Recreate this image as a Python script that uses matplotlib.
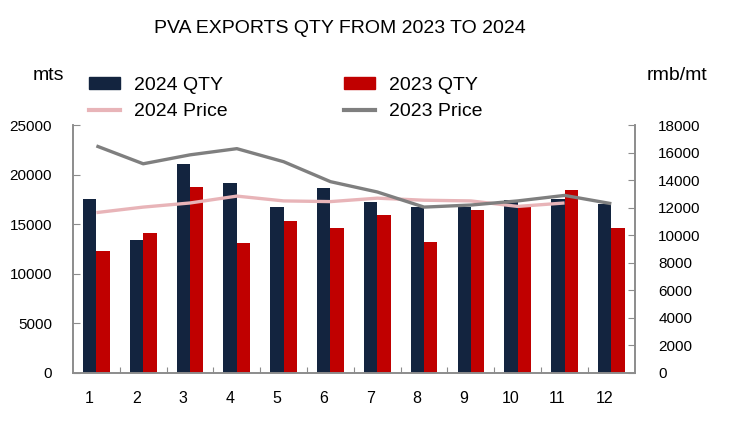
import numpy as np
import matplotlib.pyplot as plt
from matplotlib.lines import Line2D
from matplotlib.patches import Patch
import matplotlib.transforms as mtransforms

# data
months = [1, 2, 3, 4, 5, 6, 7, 8, 9, 10, 11, 12]
qty_2024 = [17600, 13400, 21100, 19200, 16700, 18700, 17300, 16700, 16700, 17500, 17600, 17000]
qty_2023 = [12300, 14100, 18800, 13100, 15300, 14600, 15900, 13200, 16400, 16700, 18500, 14600]
price_2024 = [11650, 12050, 12350, 12850, 12500, 12450, 12700, 12550, 12500, 12100, 12350]
price_2023 = [16500, 15200, 15850, 16300, 15350, 13900, 13150, 12050, 12200, 12500, 12900, 12300]

navy = '#13243f'
red = '#c00000'
pink = '#e8b4b8'
gray = '#7f7f7f'
axis_col = '#8c8c8c'

plt.rcParams['font.family'] = ['Liberation Sans', 'DejaVu Sans']

fig = plt.figure(figsize=(7.51, 4.32), dpi=100)
ax = fig.add_axes([0.0972, 0.137, 0.748, 0.573])
ax2 = ax.twinx()

x = np.array(months)
w = 0.285
ax.bar(x - w / 2, qty_2024, width=w, color=navy, zorder=2)
ax.bar(x + w / 2, qty_2023, width=w, color=red, zorder=2)

ax2.plot(months[:len(price_2024)], price_2024, color=pink, lw=2.4, solid_capstyle='butt')
ax2.plot(months, price_2023, color=gray, lw=2.4, solid_capstyle='butt')

ax.set_xlim(0.5, 12.5)
ax.set_ylim(0, 25000)
ax2.set_ylim(0, 18000)
ax.set_yticks(range(0, 25001, 5000))
ax2.set_yticks(range(0, 18001, 2000))

# ticks between groups, labels at month centres
ax.set_xticks(np.arange(1.5, 12.5, 1), minor=False)
ax.set_xticklabels([])
ax.set_xticks(x, minor=True)
ax.set_xticklabels([str(m) for m in months], minor=True, fontsize=11.5)
ax.tick_params(axis='x', which='minor', length=0, pad=13)
ax.tick_params(axis='x', which='major', direction='in', length=4, color=axis_col)
offset = mtransforms.ScaledTranslation(-7 / 100, 0, fig.dpi_scale_trans)
for lab in ax.get_xticklabels(minor=True):
    lab.set_transform(lab.get_transform() + offset)

ax.tick_params(axis='y', direction='in', length=5, color=axis_col, labelsize=11, pad=15)
ax2.tick_params(axis='y', direction='in', length=5, color=axis_col, labelsize=11, pad=17)

for a in (ax, ax2):
    a.spines['top'].set_visible(False)
    for s in ('left', 'right', 'bottom'):
        a.spines[s].set_color(axis_col)
        a.spines[s].set_linewidth(1.2)

fig.text(0.453, 0.935, 'PVA EXPORTS QTY FROM 2023 TO 2024', ha='center', va='center', fontsize=14)
fig.text(0.064, 0.826, 'mts', ha='center', va='center', fontsize=14)
fig.text(0.902, 0.826, 'rmb/mt', ha='center', va='center', fontsize=14)

handles = [Patch(color=navy), Line2D([], [], color=pink, lw=3),
           Patch(color=red), Line2D([], [], color=gray, lw=3)]
labels = ['2024 QTY', '2024 Price', '2023 QTY', '2023 Price']
fig.legend(handles, labels, ncol=2, loc='center left', bbox_to_anchor=(0.095, 0.772),
           frameon=False, fontsize=14, handlelength=1.6, handleheight=0.55,
           columnspacing=6.0, labelspacing=0.5, handletextpad=0.7)

fig.savefig('out.png', dpi=100)
